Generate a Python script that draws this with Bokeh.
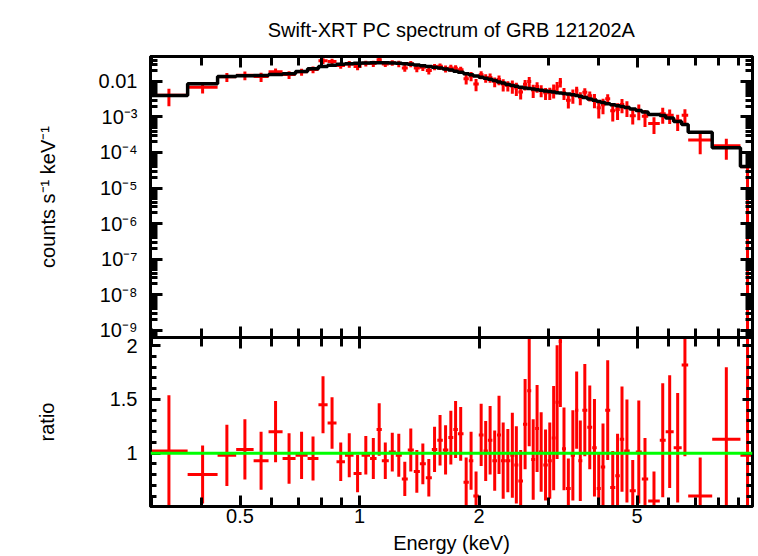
import numpy as np
from bokeh.plotting import figure
from bokeh.models import (Range1d, FixedTicker, LogAxis, LinearAxis,
                          CustomJSTickFormatter, Span)
from bokeh.layouts import column
from bokeh.embed import file_html
from bokeh.resources import INLINE

# ---------------- data ----------------
title_text = "Swift-XRT PC spectrum of GRB 121202A"
y1_label = "counts s\u207b\u00b9 keV\u207b\u00b9"
y2_label = "ratio"
x_label = "Energy (keV)"

# energy bin edges (keV)
edges = [0.297, 0.369, 0.439, 0.489, 0.541, 0.590, 0.640, 0.690, 0.740, 0.788,
         0.831, 0.875, 0.919, 0.966, 1.012, 1.063, 1.104, 1.138, 1.185, 1.234,
         1.278, 1.323, 1.370, 1.419, 1.469, 1.521, 1.570, 1.621, 1.674, 1.723,
         1.769, 1.828, 1.885, 1.935, 1.997, 2.053, 2.105, 2.161, 2.220, 2.272,
         2.330, 2.398, 2.455, 2.512, 2.581, 2.645, 2.707, 2.770, 2.832, 2.904,
         2.980, 3.050, 3.117, 3.175, 3.236, 3.312, 3.404, 3.490, 3.557, 3.641,
         3.748, 3.856, 3.958, 4.053, 4.158, 4.280, 4.409, 4.525, 4.642, 4.792,
         4.965, 5.141, 5.335, 5.706, 5.905, 6.185, 6.479, 6.728, 7.734, 9.11,
         9.89]

# folded model per bin (counts s^-1 keV^-1)
model = [4.03e-3, 8.61e-3, 1.382e-2, 1.447e-2, 1.476e-2, 1.575e-2, 1.648e-2, 1.912e-2, 2.279e-2, 2.646e-2,
         2.878e-2, 3.072e-2, 3.173e-2, 3.256e-2, 3.320e-2, 3.364e-2, 3.364e-2, 3.364e-2, 3.320e-2, 3.256e-2,
         3.152e-2, 3.051e-2, 2.915e-2, 2.786e-2, 2.646e-2, 2.512e-2, 2.385e-2, 2.249e-2, 2.108e-2, 1.938e-2,
         1.816e-2, 1.648e-2, 1.544e-2, 1.428e-2, 1.322e-2, 1.239e-2, 1.161e-2, 1.067e-2, 9.68e-3, 9.07e-3,
         8.23e-3, 7.71e-3, 7.32e-3, 6.87e-3, 6.56e-3, 6.35e-3, 6.11e-3, 5.87e-3, 5.65e-3, 5.40e-3,
         5.23e-3, 5.03e-3, 4.84e-3, 4.71e-3, 4.59e-3, 4.42e-3, 4.22e-3, 4.03e-3, 3.83e-3, 3.54e-3,
         3.21e-3, 2.95e-3, 2.73e-3, 2.56e-3, 2.35e-3, 2.21e-3, 2.07e-3, 1.98e-3, 1.85e-3, 1.68e-3,
         1.52e-3, 1.38e-3, 1.18e-3, 1.10e-3, 9.37e-4, 7.47e-4, 6.15e-4, 3.73e-4, 1.36e-4, 4.03e-5]

# data / model ratio and its 1-sigma error
ratio = [1.02, 0.80, 0.98, 1.035, 0.93, 1.20, 0.95, 0.98, 0.95, 1.45,
         1.28, 0.92, 0.98, 0.81, 0.98, 0.95, 1.22, 0.93, 1.01, 0.98,
         0.76, 1.03, 0.83, 0.90, 0.77, 1.035, 1.12, 1.03, 1.145, 1.22,
         1.18, 0.73, 0.93, 0.60, 1.17, 1.02, 1.12, 0.93, 1.17, 0.93,
         0.93, 0.98, 0.89, 0.74, 1.27, 1.58, 0.94, 1.23, 1.01, 0.89,
         0.93, 1.14, 1.475, 2.04, 1.04, 0.67, 0.98, 1.40, 0.93, 1.40,
         1.24, 1.05, 0.67, 0.87, 1.40, 0.68, 0.79, 1.13, 1.02, 0.65,
         1.01, 0.76, 0.555, 1.12, 1.20, 1.05, 1.82, 0.60, 1.13, 0.98]
ratio_err = [0.52, 0.27, 0.285, 0.28, 0.27, 0.285, 0.235, 0.22, 0.205, 0.265,
             0.24, 0.18, 0.205, 0.175, 0.18, 0.19, 0.245, 0.17, 0.18, 0.20,
             0.16, 0.20, 0.20, 0.19, 0.175, 0.21, 0.235, 0.23, 0.25, 0.265,
             0.25, 0.23, 0.27, 0.23, 0.29, 0.28, 0.32, 0.28, 0.365, 0.355,
             0.295, 0.395, 0.36, 0.29, 0.42, 0.515, 0.375, 0.405, 0.37, 0.33,
             0.355, 0.485, 0.53, 0.61, 0.385, 0.28, 0.42, 0.36, 0.375, 0.43,
             0.39, 0.455, 0.34, 0.405, 0.465, 0.34, 0.39, 0.49, 0.48, 0.285,
             0.48, 0.38, 0.275, 0.53, 0.525, 0.51, 0.85, 0.36, 0.67, 1.55]

x_tick_labels = [0.5, 1, 2, 5]
x_minor = [0.3, 0.4, 0.6, 0.7, 0.8, 0.9, 3, 4, 6, 7, 8, 9]
y1_ticks = [1e-9, 1e-8, 1e-7, 1e-6, 1e-5, 1e-4, 1e-3, 1e-2]
y1_minor = [k * 10.0 ** n for n in range(-10, -1) for k in range(2, 10)]
y2_ticks = [1, 1.5, 2]
y2_minor = [0.6, 0.7, 0.8, 0.9, 1.1, 1.2, 1.3, 1.4, 1.6, 1.7, 1.8, 1.9]

# ---------------- derived arrays ----------------
e = np.array(edges)
lo, hi = e[:-1], e[1:]
cen = np.sqrt(lo * hi)
m = np.array(model)
r = np.array(ratio)
re = np.array(ratio_err)
counts = r * m
cerr = re * m
c_lo = np.maximum(counts - cerr, 1e-15)
c_hi = counts + cerr
step_x = np.repeat(e, 2)[1:-1]
step_y = np.repeat(m, 2)

FONT = "Liberation Sans"
FS = "20px"
RED = "#ff0000"
GREEN = "#00ff00"

LOG_CODE = r"""
const e = Math.round(Math.log10(tick));
if (e === -2) { return "0.01"; }
const sup = {"-": "\u207b", "0": "\u2070", "1": "\u00b9", "2": "\u00b2", "3": "\u00b3",
             "4": "\u2074", "5": "\u2075", "6": "\u2076", "7": "\u2077", "8": "\u2078", "9": "\u2079"};
let s = "";
for (const c of String(e)) { s += sup[c]; }
return "10" + s;
"""


def style(ax, major_len, minor_len, labels=True, size=FS):
    ax.axis_line_width = 3
    ax.axis_line_color = "black"
    ax.major_tick_in = major_len
    ax.major_tick_out = 0
    ax.minor_tick_in = minor_len
    ax.minor_tick_out = 0
    ax.major_tick_line_width = 3
    ax.minor_tick_line_width = 3
    ax.major_tick_line_color = "black"
    ax.minor_tick_line_color = "black"
    if labels:
        ax.major_label_text_font = FONT
        ax.major_label_text_font_size = size
        ax.major_label_text_color = "black"
    else:
        ax.formatter = CustomJSTickFormatter(code="return '';")
        ax.major_label_text_font_size = "1px"
        ax.major_label_standoff = 0
    ax.axis_label_text_font = FONT
    ax.axis_label_text_font_size = FS
    ax.axis_label_text_font_style = "normal"
    ax.axis_label_text_color = "black"


def xt():
    return FixedTicker(ticks=x_tick_labels, minor_ticks=x_minor)


xr = Range1d(0.2975, 9.77)
OVER = 12  # canvases overlap so labels at the panel joint are not cut


def base(height, y_type, y_range, top, bottom):
    p = figure(width=755, height=height, x_axis_type="log", y_axis_type=y_type,
               x_range=xr, y_range=y_range,
               x_axis_location=None, y_axis_location=None,
               output_backend="svg", toolbar_location=None,
               min_border_left=150, min_border_right=3,
               min_border_top=top, min_border_bottom=bottom)
    p.grid.visible = False
    p.outline_line_color = "black"
    p.outline_line_width = 3
    p.background_fill_color = "white"
    return p


# ---------------- top panel ----------------
p1 = base(337 + OVER, "log", Range1d(6.15e-10, 0.0506), 56, OVER)
p1.border_fill_color = "white"
p1.title.text = title_text
p1.title.align = "center"
p1.title.vertical_align = "top"
p1.title.text_font = FONT
p1.title.text_font_size = FS
p1.title.text_font_style = "normal"
p1.title.text_color = "black"
p1.title.standoff = 27

a = LogAxis(ticker=FixedTicker(ticks=y1_ticks, minor_ticks=y1_minor),
            formatter=CustomJSTickFormatter(code=LOG_CODE), axis_label=y1_label)
style(a, 12, 7)
a.major_label_standoff = 13
a.axis_label_standoff = 37
p1.add_layout(a, "left")
a = LogAxis(ticker=FixedTicker(ticks=y1_ticks, minor_ticks=y1_minor))
style(a, 12, 7, labels=False)
p1.add_layout(a, "right")
a = LogAxis(ticker=xt())
style(a, 11, 9, labels=False)
p1.add_layout(a, "below")
a = LogAxis(ticker=xt())
style(a, 11, 9, labels=False)
p1.add_layout(a, "above")

p1.segment(x0=lo, x1=hi, y0=counts, y1=counts, line_color=RED, line_width=3)
p1.segment(x0=cen, x1=cen, y0=c_lo, y1=c_hi, line_color=RED, line_width=3)
p1.line(step_x, step_y, line_color="black", line_width=3.5)

# ---------------- ratio panel ----------------
p2 = base(556 - 337 + OVER, "linear", Range1d(0.503, 2.077), OVER, 49)
p2.border_fill_alpha = 0
p2.styles = {"margin-top": "-%dpx" % (2 * OVER)}

a = LinearAxis(ticker=FixedTicker(ticks=y2_ticks, minor_ticks=y2_minor),
               formatter=CustomJSTickFormatter(code="return String(tick);"),
               axis_label=y2_label)
style(a, 10, 6)
a.major_label_standoff = 13
a.axis_label_standoff = 49
p2.add_layout(a, "left")
a = LinearAxis(ticker=FixedTicker(ticks=y2_ticks, minor_ticks=y2_minor))
style(a, 10, 6, labels=False)
p2.add_layout(a, "right")
a = LogAxis(ticker=xt(), formatter=CustomJSTickFormatter(code="return String(tick);"),
            axis_label=x_label)
style(a, 11, 9)
a.major_label_standoff = 2
a.axis_label_standoff = 6
p2.add_layout(a, "below")
a = LogAxis(ticker=xt())
style(a, 11, 9, labels=False)
p2.add_layout(a, "above")

p2.segment(x0=lo, x1=hi, y0=r, y1=r, line_color=RED, line_width=3)
p2.segment(x0=cen, x1=cen, y0=r - re, y1=r + re, line_color=RED, line_width=3)
p2.add_layout(Span(location=1.0, dimension="width", line_color=GREEN, line_width=3))

layout = column(p1, p2, spacing=0)
with open("out.html", "w", encoding="utf-8") as f:
    f.write(file_html(layout, INLINE))
